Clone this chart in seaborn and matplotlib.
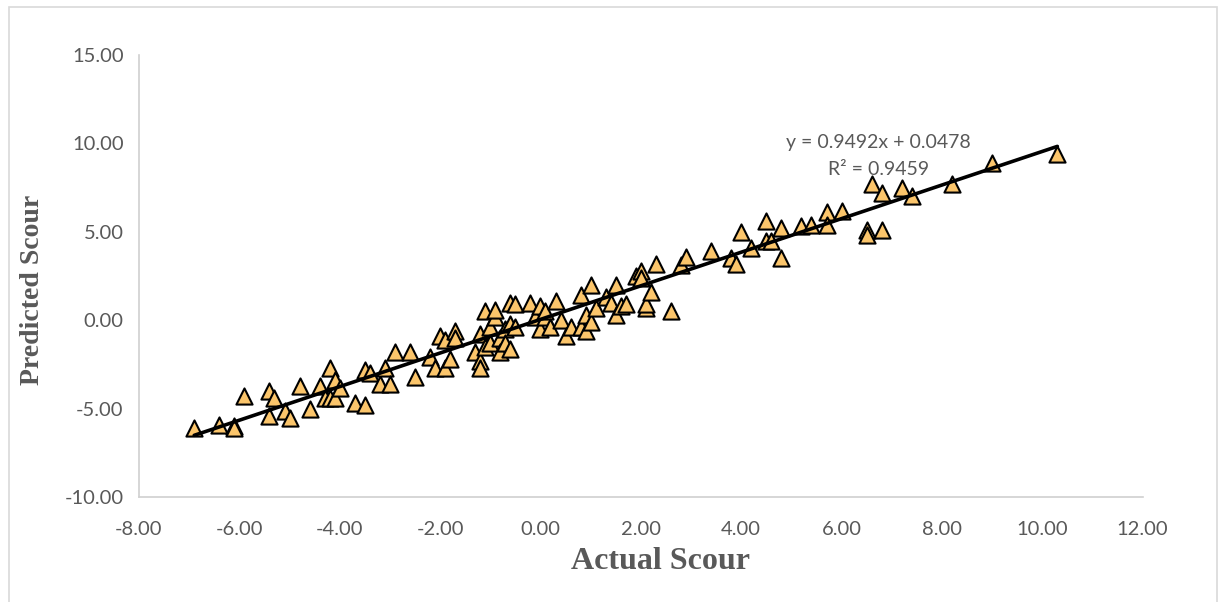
import matplotlib
matplotlib.use("Agg")
import matplotlib.pyplot as plt
import seaborn as sns
import pandas as pd
from matplotlib.patches import Rectangle

# values
actual = [
    -6.9, -6.4, -6.1, -6.1, -5.9, -5.4, -5.4, -5.3, -5.1, -5.0,
    -4.8, -4.6, -4.4, -4.3, -4.2, -4.2, -4.1, -4.1, -4.0, -3.7,
    -3.5, -3.5, -3.4, -3.2, -3.1, -3.0, -2.9, -2.6, -2.5, -2.2,
    -2.1, -2.0, -1.9, -1.9, -1.8, -1.7, -1.7, -1.3, -1.2, -1.2,
    -1.2, -1.1, -1.1, -1.0, -1.0, -0.9, -0.9, -0.8, -0.8, -0.7,
    -0.7, -0.6, -0.6, -0.6, -0.5, -0.5, -0.2, -0.1, 0.0, 0.0,
    0.1, 0.1, 0.2, 0.3, 0.4, 0.5, 0.6, 0.8, 0.8, 0.9,
    0.9, 1.0, 1.0, 1.1, 1.3, 1.4, 1.5, 1.5, 1.6, 1.7,
    1.9, 2.0, 2.0, 2.1, 2.1, 2.2, 2.3, 2.6, 2.8, 2.9,
    3.4, 3.8, 3.9, 4.0, 4.2, 4.5, 4.5, 4.6, 4.8, 4.8,
    5.2, 5.4, 5.7, 5.7, 6.0, 6.5, 6.5, 6.6, 6.8, 6.8,
    7.2, 7.4, 8.2, 9.0, 10.3,
]
predicted = [
    -6.1, -5.9, -6.0, -6.1, -4.3, -4.0, -5.4, -4.4, -5.1, -5.5,
    -3.7, -5.0, -3.7, -4.4, -2.7, -4.4, -3.4, -4.4, -3.8, -4.7,
    -2.8, -4.8, -3.0, -3.6, -2.7, -3.6, -1.8, -1.8, -3.2, -2.1,
    -2.7, -0.9, -1.1, -2.7, -2.2, -0.6, -1.0, -1.8, -2.3, -2.7,
    -0.8, 0.5, -1.5, -1.3, -0.4, 0.2, 0.6, -1.0, -1.8, -0.5,
    -1.3, 1.0, -0.2, -1.6, 0.9, -0.4, 1.0, 0.2, 0.8, -0.5,
    0.2, 0.5, -0.4, 1.1, 0.0, -0.9, -0.4, 1.4, -0.4, 0.3,
    -0.6, 2.0, -0.1, 0.7, 1.3, 1.0, 2.0, 0.3, 0.8, 0.9,
    2.5, 2.8, 2.4, 0.7, 0.9, 1.6, 3.2, 0.5, 3.1, 3.6,
    3.9, 3.5, 3.2, 5.0, 4.1, 5.6, 4.5, 4.5, 5.2, 3.5,
    5.3, 5.4, 6.1, 5.4, 6.2, 5.1, 4.8, 7.7, 7.2, 5.1,
    7.5, 7.0, 7.7, 8.9, 9.4,
]
slope = 0.9492
intercept = 0.0478
r_squared = 0.9459

df = pd.DataFrame({"actual": actual, "predicted": predicted})

sns.set_style("white")
plt.rcParams["font.family"] = ["Lato", "DejaVu Sans"]

fig = plt.figure(figsize=(12.3, 6.02), dpi=100)
ax = fig.add_axes([0.113, 0.174, 0.816, 0.735])

axis_grey = "#d0d0d0"
text_grey = "#595959"

# Excel-style linear trendline
x_fit = [min(actual), max(actual)]
y_fit = [slope * v + intercept for v in x_fit]
sns.lineplot(x=x_fit, y=y_fit, color="black", linewidth=2.6, ax=ax, zorder=3)

sns.scatterplot(data=df, x="actual", y="predicted", marker="^", s=135,
                color="#FBC56B", edgecolor="black", linewidth=1.5, ax=ax, zorder=2)

ax.set_xlim(-8, 12)
ax.set_ylim(-10, 15)
ax.set_xticks(range(-8, 13, 2))
ax.set_yticks(range(-10, 16, 5))
ax.set_xticklabels([f"{v:.2f}" for v in range(-8, 13, 2)])
ax.set_yticklabels([f"{v:.2f}" for v in range(-10, 16, 5)])

for side in ["top", "right"]:
    ax.spines[side].set_visible(False)
for side in ["left", "bottom"]:
    ax.spines[side].set_color(axis_grey)
    ax.spines[side].set_linewidth(1.2)

ax.tick_params(axis="both", which="major", direction="out", length=5,
               width=1.2, color=axis_grey, labelcolor=text_grey, labelsize=14.5)
ax.tick_params(axis="x", pad=12)
ax.tick_params(axis="y", pad=6)

label_font = dict(family="Liberation Serif", weight="bold", color=text_grey)
ax.set_xlabel("Actual Scour", size=23, **label_font)
ax.set_ylabel("Predicted Scour", size=20, **label_font)
ax.xaxis.set_label_coords(0.52, -0.113)
ax.yaxis.set_label_coords(-0.094, 0.468)

ax.text(6.73, 10.05, f"y = {slope}x + {intercept}", ha="center", va="center",
        fontsize=14, color=text_grey)
ax.text(6.73, 8.5, f"R² = {r_squared}", ha="center", va="center",
        fontsize=14, color=text_grey)

# thin chart-area border
fig.patches.append(Rectangle((0.0075, -0.02), 0.982, 1.008, transform=fig.transFigure,
                             fill=False, edgecolor="#d9d9d9", linewidth=1.2))

fig.savefig("out.png", dpi=100)
